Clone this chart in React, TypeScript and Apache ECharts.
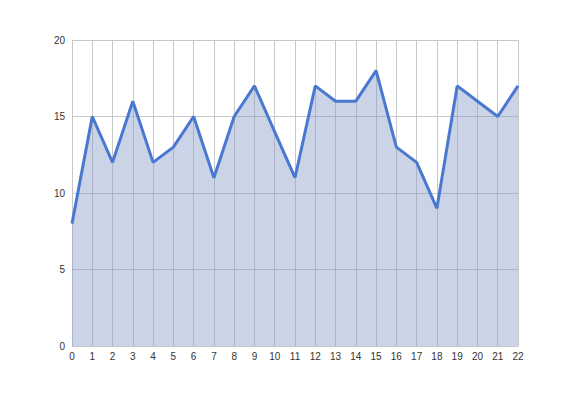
import React, { useEffect, useRef } from "react";
import * as echarts from "echarts";

const categories = ["0","1","2","3","4","5","6","7","8","9","10","11","12","13","14","15","16","17","18","19","20","21","22"];
const values = [8, 15, 12, 16, 12, 13, 15, 11, 15, 17, 14, 11, 17, 16, 16, 18, 13, 12, 9, 17, 16, 15, 17];

export default function App() {
  const ref = useRef<HTMLDivElement>(null);
  useEffect(() => {
    document.body.style.margin = "0";
    const chart = echarts.init(ref.current!, null, { renderer: "svg" });
    chart.setOption({
      animation: false,
      backgroundColor: "#ffffff",
      grid: { left: 72, right: 58, top: 40, bottom: 50, containLabel: false },
      xAxis: {
        type: "category",
        data: categories,
        boundaryGap: false,
        axisLine: { show: true, lineStyle: { color: "#c8c8c8", width: 1 } },
        axisTick: { show: false },
        axisLabel: { color: "#333", fontSize: 10, fontFamily: "Liberation Sans, Arial, sans-serif", margin: 5, interval: 0 },
        splitLine: { show: true, lineStyle: { color: "#c8c8c8", width: 1 } },
      },
      yAxis: {
        type: "value",
        min: 0,
        max: 20,
        interval: 5,
        axisLine: { show: false },
        axisTick: { show: false },
        axisLabel: { color: "#333", fontSize: 10, fontFamily: "Liberation Sans, Arial, sans-serif", margin: 7 },
        splitLine: { show: true, lineStyle: { color: "#c8c8c8", width: 1 } },
      },
      series: [
        {
          type: "line",
          data: values,
          showSymbol: false,
          symbol: "none",
          lineStyle: { color: "#4a78d0", width: 3 },
          areaStyle: { color: "rgb(128,152,195)", opacity: 0.42 },
        },
      ],
    });
    return () => chart.dispose();
  }, []);
  return <div ref={ref} style={{ width: 576, height: 396 }} />;
}
